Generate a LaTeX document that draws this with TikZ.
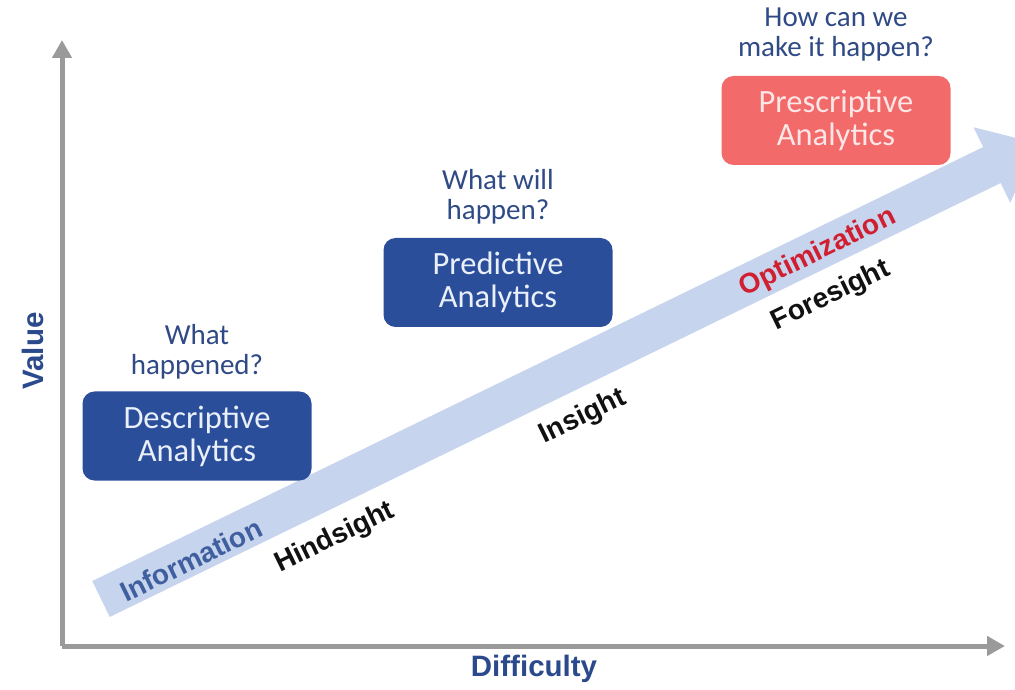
\documentclass[tikz,border=0pt]{standalone}
\usepackage{fontspec}
\setmainfont{Carlito}
\newfontfamily\arialfont{Liberation Sans}
\usetikzlibrary{arrows.meta}
\definecolor{axisgray}{HTML}{9A9A9A}
\definecolor{flowblue}{HTML}{C6D4EE}
\definecolor{boxblue}{HTML}{2B4E9B}
\definecolor{boxtext}{HTML}{EAF0FA}
\definecolor{boxred}{HTML}{F26A6A}
\definecolor{redtext}{HTML}{FCE6E6}
\definecolor{qblue}{HTML}{2F4A85}
\definecolor{axislabel}{HTML}{2B4A8C}
\definecolor{infoblue}{HTML}{3F5F9F}
\definecolor{optred}{HTML}{D01F30}
\definecolor{darktext}{HTML}{111111}
\tikzset{
  axisline/.style={draw=axisgray, line width=5pt, -{Triangle[length=18pt,width=19pt]}},
  anabox/.style={rounded corners=12pt, minimum width=229pt, minimum height=89pt, align=center, inner sep=0pt, font=\fontsize{32.5}{33}\selectfont},
  bluebox/.style={anabox, fill=boxblue, text=boxtext},
  redbox/.style={anabox, fill=boxred, text=redtext},
  question/.style={align=center, text=qblue, inner sep=0pt, font=\fontsize{29}{30}\selectfont},
  axistext/.style={text=axislabel, inner sep=0pt, font=\arialfont\bfseries\fontsize{29.5}{30}\selectfont},
  flowtext/.style={inner sep=0pt, rotate=26, font=\arialfont\bfseries\fontsize{28}{30}\selectfont}
}
\begin{document}
\begin{tikzpicture}[x=1pt,y=1pt]
\path[use as bounding box] (0,0) rectangle (1015,689);
\clip (0,0) rectangle (1015,689);
% axes
\coordinate (origin) at (62,43);
\coordinate (ytip) at (62,649);
\coordinate (xtip) at (1005,43);
\draw[axisline] (origin) -- (ytip);
\draw[axisline] (origin) -- (xtip);
% big flow arrow
\begin{scope}[shift={(101,90)}, rotate=25.97]
\fill[flowblue] (0,-20) -- (991,-20) -- (991,-42) -- (1041,0) -- (991,42) -- (991,20) -- (0,20) -- cycle;
\end{scope}
% boxes
\node[bluebox] (desc) at (197,253) {Descriptive\\Analytics};
\node[bluebox] (pred) at (498,406.5) {Predictive\\Analytics};
\node[redbox] (pres) at (836,568.5) {Prescriptive\\Analytics};
% questions
\node[question] (q1) at (197,337) {What\\happened?};
\node[question] (q2) at (498,492) {What will\\happen?};
\node[question] (q3) at (836,654) {How can we\\make it happen?};
% axis labels
\node[axistext, rotate=90] (value) at (33,338) {Value};
\node[axistext] (diff) at (534,20) {Difficulty};
% flow labels
\node[flowtext, text=infoblue] (info) at (191,129) {Information};
\node[flowtext, text=darktext] (hind) at (335,151) {Hindsight};
\node[flowtext, text=darktext] (ins) at (583,272) {Insight};
\node[flowtext, text=optred] (opt) at (818,436) {Optimization};
\node[flowtext, text=darktext] (fore) at (831,393) {Foresight};
\end{tikzpicture}
\end{document}
